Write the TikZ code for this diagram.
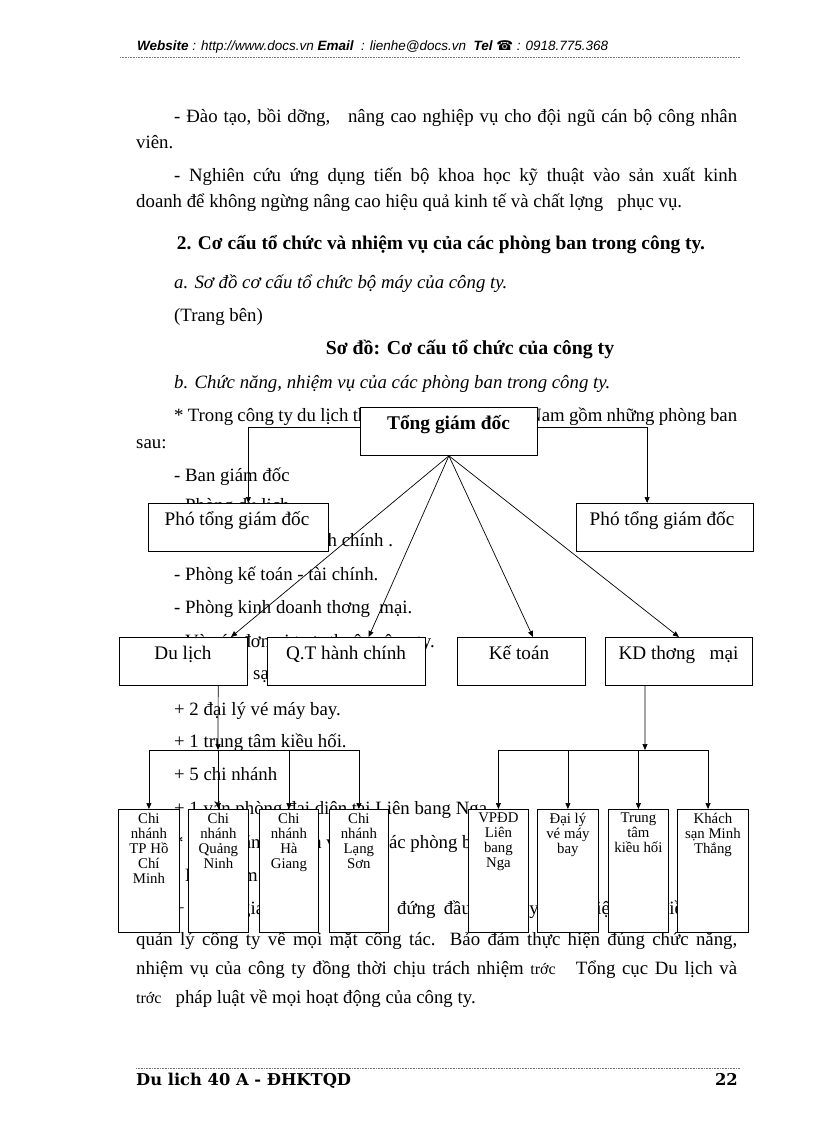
\documentclass[tikz,border=0pt]{standalone}
\usepackage{fontspec}
\setmainfont{Liberation Serif}
\newfontfamily\hdrfont{Liberation Sans}
\newfontfamily\symfont{DejaVu Sans}
\newfontfamily\ftrfont{DejaVu Serif}
\usetikzlibrary{arrows.meta,calc}
\newcommand\mybody{\fontsize{18.8}{22}\selectfont}
\newcommand\mysmall{\fontsize{14.8}{15}\selectfont}
\newcommand\jl[2]{\makebox[#1pt][s]{#2}}
\tikzset{
  txt/.style={anchor=base west, inner sep=0pt, font=\mybody},
  ctxt/.style={anchor=base, inner sep=0pt, font=\mybody},
  bigbox/.style={draw, fill=white, line width=0.8pt, inner sep=0pt, anchor=north west},
  smallbox/.style={draw, fill=white, line width=0.8pt, inner sep=0pt, anchor=north west, minimum height=123pt},
  blbl/.style={anchor=base, inner sep=0pt, font=\fontsize{19.2}{22}\selectfont},
  slbl/.style={anchor=north, inner sep=0pt, align=center, font=\mysmall},
  conn/.style={line width=0.7pt},
  arr/.style={line width=0.7pt, -{Triangle[length=6pt,width=5pt]}},
  rule/.style={line width=0.6pt, draw=black!55, dash pattern=on 1pt off 0.6pt}
}
\begin{document}
\begin{tikzpicture}[x=1pt,y=-1pt]
\useasboundingbox[fill=white] (0,0) rectangle (816,1123);

% header
\node[anchor=base west, inner sep=0pt, font=\hdrfont\itshape\fontsize{13.5}{15}\selectfont] (hdr) at (137,51)
  {\textbf{Website} : http://www.docs.vn \textbf{Email}\ \ : lienhe@docs.vn\ \ \textbf{Tel} {\symfont\upshape ☎} : 0918.775.368};
\coordinate (hl) at (120,57); \coordinate (hr) at (740,57);
\draw[rule] (hl) -- (hr);

% body text
\node[txt] (l1) at (174,123) {\jl{563}{- Đào tạo, bồi dỡng,\ \ \ nâng cao nghiệp vụ cho đội ngũ cán bộ công nhân}};
\node[txt] (l2) at (136,149) {viên.};
\node[txt] (l3) at (174,182) {\jl{563}{- Nghiên cứu ứng dụng tiến bộ khoa học kỹ thuật vào sản xuất kinh}};
\node[txt] (l4) at (136,208) {doanh để không ngừng nâng cao hiệu quả kinh tế và chất lợng\ \ \ phục vụ.};
\node[ctxt, font=\fontsize{19.4}{22}\selectfont\bfseries] (l5) at (441,249) {2. Cơ cấu tổ chức và nhiệm vụ của các phòng ban trong công ty.};
\node[txt, font=\mybody\itshape] (l6) at (174,288) {a. Sơ đồ cơ cấu tổ chức bộ máy của công ty.};
\node[txt] (l7) at (174,321) {(Trang bên)};
\node[ctxt, font=\fontsize{19.8}{22}\selectfont\bfseries] (l8) at (470,354) {Sơ đồ: Cơ cấu tổ chức của công ty};
\node[txt, font=\mybody\itshape] (l9) at (174,388) {b. Chức năng, nhiệm vụ của các phòng ban trong công ty.};
\node[txt] (l10) at (174,421) {\jl{563}{* Trong công ty du lịch thơng mại dịch vụ Việt Nam gồm những phòng ban}};
\node[txt] (l11) at (136,448) {sau:};
\node[txt] (l12) at (174,481) {- Ban giám đốc};
\node[txt] (l13) at (174,511) {- Phòng du lịch};
\node[txt] (l14) at (174,546) {- Phòng quản trị hành chính .};
\node[txt] (l15) at (174,580) {- Phòng kế toán - tài chính.};
\node[txt] (l16) at (174,613) {- Phòng kinh doanh thơng\ \ mại.};
\node[txt] (l17) at (174,647) {- Và các đơn vị trực thuộc công ty.};
\node[txt] (l18) at (174,679) {+ 1 khách sạn.};
\node[txt] (l19) at (174,715) {+ 2 đại lý vé máy bay.};
\node[txt] (l20) at (174,747) {+ 1 trung tâm kiều hối.};
\node[txt] (l21) at (174,780) {+ 5 chi nhánh};
\node[txt] (l22) at (174,814) {+ 1 văn phòng đại diện tại Liên bang Nga.};
\node[txt] (l23) at (174,848) {* Chức năng nhiệm vụ của các phòng ban};
\node[txt] (l24) at (174,881) {- Ban giám đốc:};
\node[txt] (l25) at (174,914) {\jl{563}{+ Tổng giám đốc: là ngời đứng đầu công ty, có nhiệm vụ điều hành}};
\node[txt] (l26) at (136,945) {\jl{601}{quản lý công ty về mọi mặt công tác. Bảo đảm thực hiện đúng chức năng,}};
\node[txt] (l27) at (136,974) {\jl{601}{nhiệm vụ của công ty đồng thời chịu trách nhiệm {\fontsize{16}{18}\selectfont trớc}\ \ \ Tổng cục Du lịch và}};
\node[txt] (l28) at (136,1003) {{\fontsize{16}{18}\selectfont trớc}\ \ \ pháp luật về mọi hoạt động của công ty.};

% footer
\coordinate (fl) at (136,1068); \coordinate (fr) at (740,1068);
\draw[rule] (fl) -- (fr);
\node[anchor=base west, inner sep=0pt, font=\ftrfont\bfseries\fontsize{16.3}{18}\selectfont] (ftl) at (136,1085) {Du lich 40 A - ĐHKTQD};
\node[anchor=base east, inner sep=0pt, font=\ftrfont\bfseries\fontsize{16.3}{18}\selectfont] (ftr) at (738,1085) {22};

% ---------- diagram ----------
% level 0
\node[bigbox, minimum width=177pt, minimum height=48pt] (tgd) at (360,407) {};
\node[blbl, font=\fontsize{19.4}{22}\selectfont\bfseries] (tgdT) at (448.5,429) {Tổng giám đốc};
% level 1
\node[bigbox, minimum width=180pt, minimum height=48pt] (p1) at (148,503) {};
\node[blbl] (p1T) at (237,525) {Phó tổng giám đốc};
\node[bigbox, minimum width=177pt, minimum height=48pt] (p2) at (576,503) {};
\node[blbl] (p2T) at (662,525) {Phó tổng giám đốc};
% level 2
\node[bigbox, minimum width=128pt, minimum height=48pt] (dl) at (119,637) {};
\node[blbl] (dlT) at (183,659) {Du lịch};
\node[bigbox, minimum width=158pt, minimum height=48pt] (qt) at (267,637) {};
\node[blbl] (qtT) at (346,659) {Q.T hành chính};
\node[bigbox, minimum width=128pt, minimum height=48pt] (kt) at (457,637) {};
\node[blbl] (ktT) at (519,659) {Kế toán};
\node[bigbox, minimum width=147pt, minimum height=48pt] (kd) at (605,637) {};
\node[blbl] (kdT) at (678.5,659) {KD thơng\ \ \ mại};
% level 3
\node[smallbox, minimum width=61pt] (c1) at (118,809) {};
\node[slbl] at (c1.north) [yshift=-4pt] {Chi\\nhánh\\TP Hồ\\Chí\\Minh};
\node[smallbox, minimum width=60pt] (c2) at (188,809) {};
\node[slbl] at (c2.north) [yshift=-4pt] {Chi\\nhánh\\Quảng\\Ninh};
\node[smallbox, minimum width=59pt] (c3) at (259,809) {};
\node[slbl] at (c3.north) [yshift=-4pt] {Chi\\nhánh\\Hà\\Giang};
\node[smallbox, minimum width=59pt] (c4) at (329,809) {};
\node[slbl] at (c4.north) [yshift=-4pt] {Chi\\nhánh\\Lạng\\Sơn};
\node[smallbox, minimum width=60pt] (c5) at (468,809) {};
\node[slbl] at (c5.north) [yshift=-4pt] {VPĐD\\Liên\\bang\\Nga};
\node[smallbox, minimum width=61pt] (c6) at (537,809) {};
\node[slbl] at (c6.north) [yshift=-4pt] {Đại lý\\vé máy\\bay};
\node[smallbox, minimum width=60pt] (c7) at (608,809) {};
\node[slbl] at (c7.north) [yshift=-4pt] {Trung\\tâm\\kiều hối};
\node[smallbox, minimum width=71pt] (c8) at (677,809) {};
\node[slbl] at (c8.north) [yshift=-4pt] {Khách\\sạn Minh\\Thắng};

% connectors level 0 -> 1
\draw[arr] ($(tgd.north west)!0.42!(tgd.south west)$) -| ($(p1.north west)!0.555!(p1.north east)$);
\draw[arr] ($(tgd.north east)!0.42!(tgd.south east)$) -| ($(p2.north west)!0.40!(p2.north east)$);
% level 0 -> 2
\draw[arr] (tgd.south) -- ($(dl.north west)!0.87!(dl.north east)$);
\draw[arr] (tgd.south) -- ($(qt.north west)!0.64!(qt.north east)$);
\draw[arr] (tgd.south) -- ($(kt.north west)!0.59!(kt.north east)$);
\draw[arr] (tgd.south) -- ($(kd.north west)!0.50!(kd.north east)$);
% Du lich -> branches
\coordinate (bl) at (218,750);
\draw[arr] ($(dl.south west)!0.77!(dl.south east)$) -- (bl);
\draw[conn] (c1.north |- bl) -- (c4.north |- bl);
\draw[arr] (c1.north |- bl) -- (c1.north);
\draw[arr] (c2.north |- bl) -- (c2.north);
\draw[arr] (c3.north |- bl) -- (c3.north);
\draw[arr] (c4.north |- bl) -- (c4.north);
% KD -> units
\coordinate (br) at (645,750);
\coordinate (r4) at (708,750);
\draw[arr] ($(kd.south west)!0.27!(kd.south east)$) -- (br);
\draw[conn] (c5.north |- br) -- (r4);
\draw[arr] (c5.north |- br) -- (c5.north);
\draw[arr] (c6.north |- br) -- (c6.north);
\draw[arr] (c7.north |- br) -- (c7.north);
\draw[arr] (r4) -- (r4 |- c8.north);
\end{tikzpicture}
\end{document}
